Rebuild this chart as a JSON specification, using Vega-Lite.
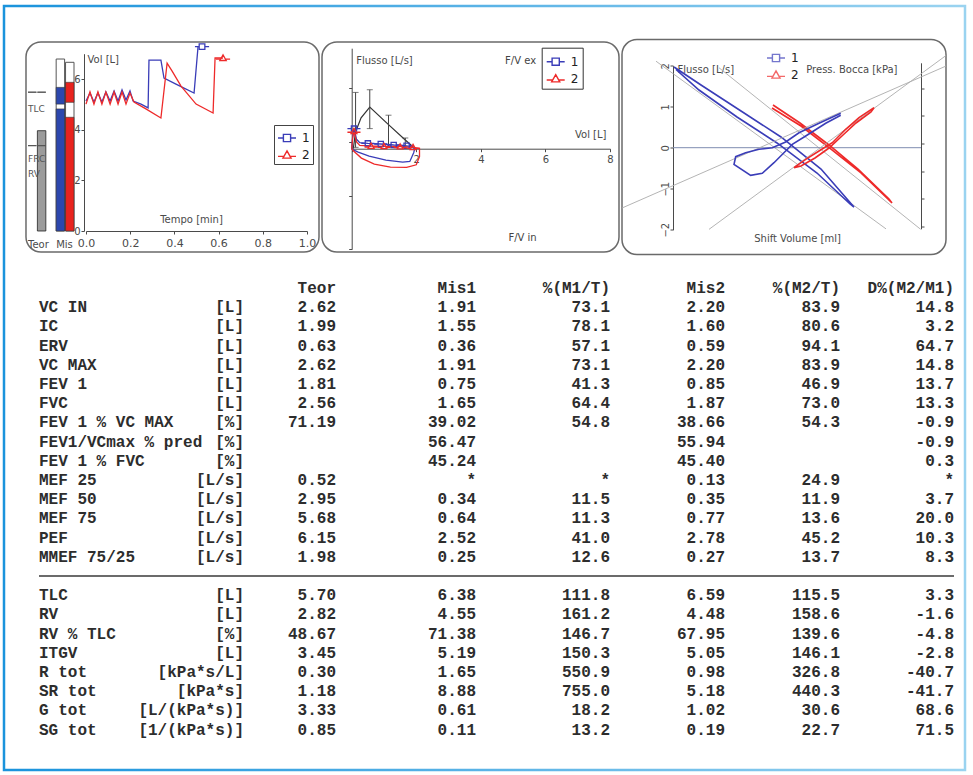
{
 "$schema": "https://vega.github.io/schema/vega-lite/v6.json",
 "background": "white",
 "padding": {"left": 2, "top": 4, "right": 0, "bottom": 0},
 "config": {
  "view": {"stroke": null},
  "axis": {"grid": false, "labelFont": "DejaVu Sans", "labelFontSize": 10, "labelColor": "#4a4a4a", "tickColor": "#4a4a4a", "domainColor": "#4a4a4a", "tickSize": 3, "titleFont": "DejaVu Sans", "titleFontSize": 10, "titleFontWeight": "normal", "titleColor": "#4a4a4a", "labelOverlap": false, "labelFlush": false, "labelBound": false, "titlePadding": 0},
  "legend": {"symbolSize": 324, "symbolStrokeWidth": 1.4, "labelFont": "DejaVu Sans", "labelFontSize": 12, "labelColor": "#222", "rowPadding": 0, "labelOffset": 5},
  "text": {"font": "Liberation Mono", "fontSize": 16, "fontWeight": "bold", "fill": "#2d2d2d", "baseline": "middle"}
 },
 "datasets": {
  "table": [
   {"p":"","u":"","teor":"Teor","mis1":"Mis1","m1t":"%(M1/T)","mis2":"Mis2","m2t":"%(M2/T)","d":"D%(M2/M1)"},
   {"p":"VC IN","u":"[L]","teor":"2.62","mis1":"1.91","m1t":"73.1","mis2":"2.20","m2t":"83.9","d":"14.8"},
   {"p":"IC","u":"[L]","teor":"1.99","mis1":"1.55","m1t":"78.1","mis2":"1.60","m2t":"80.6","d":"3.2"},
   {"p":"ERV","u":"[L]","teor":"0.63","mis1":"0.36","m1t":"57.1","mis2":"0.59","m2t":"94.1","d":"64.7"},
   {"p":"VC MAX","u":"[L]","teor":"2.62","mis1":"1.91","m1t":"73.1","mis2":"2.20","m2t":"83.9","d":"14.8"},
   {"p":"FEV 1","u":"[L]","teor":"1.81","mis1":"0.75","m1t":"41.3","mis2":"0.85","m2t":"46.9","d":"13.7"},
   {"p":"FVC","u":"[L]","teor":"2.56","mis1":"1.65","m1t":"64.4","mis2":"1.87","m2t":"73.0","d":"13.3"},
   {"p":"FEV 1 % VC MAX","u":"[%]","teor":"71.19","mis1":"39.02","m1t":"54.8","mis2":"38.66","m2t":"54.3","d":"-0.9"},
   {"p":"FEV1/VCmax % pred","u":"[%]","teor":"","mis1":"56.47","m1t":"","mis2":"55.94","m2t":"","d":"-0.9"},
   {"p":"FEV 1 % FVC","u":"[%]","teor":"","mis1":"45.24","m1t":"","mis2":"45.40","m2t":"","d":"0.3"},
   {"p":"MEF 25","u":"[L/s]","teor":"0.52","mis1":"*","m1t":"*","mis2":"0.13","m2t":"24.9","d":"*"},
   {"p":"MEF 50","u":"[L/s]","teor":"2.95","mis1":"0.34","m1t":"11.5","mis2":"0.35","m2t":"11.9","d":"3.7"},
   {"p":"MEF 75","u":"[L/s]","teor":"5.68","mis1":"0.64","m1t":"11.3","mis2":"0.77","m2t":"13.6","d":"20.0"},
   {"p":"PEF","u":"[L/s]","teor":"6.15","mis1":"2.52","m1t":"41.0","mis2":"2.78","m2t":"45.2","d":"10.3"},
   {"p":"MMEF 75/25","u":"[L/s]","teor":"1.98","mis1":"0.25","m1t":"12.6","mis2":"0.27","m2t":"13.7","d":"8.3"},
   {"p":"TLC","u":"[L]","teor":"5.70","mis1":"6.38","m1t":"111.8","mis2":"6.59","m2t":"115.5","d":"3.3"},
   {"p":"RV","u":"[L]","teor":"2.82","mis1":"4.55","m1t":"161.2","mis2":"4.48","m2t":"158.6","d":"-1.6"},
   {"p":"RV % TLC","u":"[%]","teor":"48.67","mis1":"71.38","m1t":"146.7","mis2":"67.95","m2t":"139.6","d":"-4.8"},
   {"p":"ITGV","u":"[L]","teor":"3.45","mis1":"5.19","m1t":"150.3","mis2":"5.05","m2t":"146.1","d":"-2.8"},
   {"p":"R tot","u":"[kPa*s/L]","teor":"0.30","mis1":"1.65","m1t":"550.9","mis2":"0.98","m2t":"326.8","d":"-40.7"},
   {"p":"SR tot","u":"[kPa*s]","teor":"1.18","mis1":"8.88","m1t":"755.0","mis2":"5.18","m2t":"440.3","d":"-41.7"},
   {"p":"G tot","u":"[L/(kPa*s)]","teor":"3.33","mis1":"0.61","m1t":"18.2","mis2":"1.02","m2t":"30.6","d":"68.6"},
   {"p":"SG tot","u":"[1/(kPa*s)]","teor":"0.85","mis1":"0.11","m1t":"13.2","mis2":"0.19","m2t":"22.7","d":"71.5"}
  ],
  "p1bars": [
   {"bar":"Mis1","seg":"box","lo":0,"hi":6.79},
   {"bar":"Mis2","seg":"box","lo":0,"hi":6.66},
   {"bar":"Mis1","seg":"fill","lo":0,"hi":4.82},
   {"bar":"Mis1","seg":"fill","lo":5.01,"hi":5.67},
   {"bar":"Mis2","seg":"fill","lo":0,"hi":4.49},
   {"bar":"Mis2","seg":"fill","lo":5.08,"hi":5.87},
   {"bar":"TeorR","seg":"teor","lo":0,"hi":3.96},
   {"bar":"TeorL","seg":"level","lo":5.48,"hi":5.48},
   {"bar":"TeorR","seg":"level","lo":5.48,"hi":5.48},
   {"bar":"TeorL","seg":"level","lo":3.37,"hi":3.37},
   {"bar":"TeorR","seg":"level","lo":3.37,"hi":3.37}
  ],
  "p1labels": [
   {"bar":"TeorL","lab":"TLC","v":4.82},
   {"bar":"TeorL","lab":"FRC","v":2.84},
   {"bar":"TeorL","lab":"RV","v":2.25}
  ],
  "p1foot": [
   {"bar":"TeorL","lab":"Teor","v":-0.55},
   {"bar":"Mis1","lab":"Mis","v":-0.55}
  ],
  "p1lines": [
   {"s":"1","i":0,"t":0,"vol":5.13},{"s":"1","i":1,"t":0.018,"vol":5.45},{"s":"1","i":2,"t":0.036,"vol":5.09},{"s":"1","i":3,"t":0.054,"vol":5.45},{"s":"1","i":4,"t":0.072,"vol":5.09},{"s":"1","i":5,"t":0.09,"vol":5.49},{"s":"1","i":6,"t":0.109,"vol":5.13},{"s":"1","i":7,"t":0.127,"vol":5.53},{"s":"1","i":8,"t":0.145,"vol":5.13},{"s":"1","i":9,"t":0.163,"vol":5.57},{"s":"1","i":10,"t":0.181,"vol":5.17},{"s":"1","i":11,"t":0.199,"vol":5.53},{"s":"1","i":12,"t":0.213,"vol":5.13},{"s":"1","i":13,"t":0.249,"vol":5.01},{"s":"1","i":14,"t":0.281,"vol":4.86},{"s":"1","i":15,"t":0.285,"vol":6.75},{"s":"1","i":16,"t":0.339,"vol":6.75},{"s":"1","i":17,"t":0.353,"vol":6.04},{"s":"1","i":18,"t":0.407,"vol":5.8},{"s":"1","i":19,"t":0.489,"vol":5.45},{"s":"1","i":20,"t":0.507,"vol":7.28},
   {"s":"2","i":0,"t":0,"vol":5.01},{"s":"2","i":1,"t":0.018,"vol":5.49},{"s":"2","i":2,"t":0.036,"vol":5.01},{"s":"2","i":3,"t":0.054,"vol":5.49},{"s":"2","i":4,"t":0.072,"vol":5.01},{"s":"2","i":5,"t":0.09,"vol":5.49},{"s":"2","i":6,"t":0.109,"vol":5.01},{"s":"2","i":7,"t":0.127,"vol":5.49},{"s":"2","i":8,"t":0.145,"vol":5.01},{"s":"2","i":9,"t":0.163,"vol":5.49},{"s":"2","i":10,"t":0.181,"vol":5.01},{"s":"2","i":11,"t":0.199,"vol":5.45},{"s":"2","i":12,"t":0.217,"vol":5.09},{"s":"2","i":13,"t":0.271,"vol":4.82},{"s":"2","i":14,"t":0.339,"vol":4.46},{"s":"2","i":15,"t":0.367,"vol":6.63},{"s":"2","i":16,"t":0.389,"vol":6.32},{"s":"2","i":17,"t":0.43,"vol":5.72},{"s":"2","i":18,"t":0.498,"vol":5.01},{"s":"2","i":19,"t":0.575,"vol":4.66},{"s":"2","i":20,"t":0.584,"vol":6.83},{"s":"2","i":21,"t":0.62,"vol":6.83}
  ],
  "p1marks": [{"s":"1","t":0.525,"vol":7.28},{"s":"2","t":0.62,"vol":6.83}],
  "p2pred": [{"i":0,"v":0.05,"f":0},{"i":1,"v":0.12,"f":2.5},{"i":2,"v":0.29,"f":4.6},{"i":3,"v":0.56,"f":6.2},{"i":4,"v":1.14,"f":3.6},{"i":5,"v":1.66,"f":1.3},{"i":6,"v":1.94,"f":0.1}],
  "p2err": [{"v":0.12,"lo":0.2,"hi":8.4},{"v":0.56,"lo":3.0,"hi":8.8},{"v":1.14,"lo":0.2,"hi":5.0},{"v":1.66,"lo":0.3,"hi":1.6}],
  "p2fv": [
   {"s":"1","i":0,"v":0,"f":0},{"s":"1","i":1,"v":0.03,"f":1.8},{"s":"1","i":2,"v":0.07,"f":3.0},{"s":"1","i":3,"v":0.1,"f":2.4},{"s":"1","i":4,"v":0.15,"f":1.4},{"s":"1","i":5,"v":0.25,"f":0.9},{"s":"1","i":6,"v":0.5,"f":0.8},{"s":"1","i":7,"v":0.9,"f":0.7},{"s":"1","i":8,"v":1.3,"f":0.55},{"s":"1","i":9,"v":1.6,"f":0.5},{"s":"1","i":10,"v":1.85,"f":0.3},{"s":"1","i":11,"v":1.95,"f":0},{"s":"1","i":12,"v":1.92,"f":-0.6},{"s":"1","i":13,"v":1.8,"f":-1.9},{"s":"1","i":14,"v":1.58,"f":-2.0},{"s":"1","i":15,"v":1.06,"f":-1.7},{"s":"1","i":16,"v":0.54,"f":-1.1},{"s":"1","i":17,"v":0.2,"f":-0.5},{"s":"1","i":18,"v":0.02,"f":-0.1},{"s":"1","i":19,"v":0,"f":0},
   {"s":"2","i":0,"v":0,"f":0},{"s":"2","i":1,"v":0.03,"f":1.6},{"s":"2","i":2,"v":0.07,"f":2.6},{"s":"2","i":3,"v":0.1,"f":2.0},{"s":"2","i":4,"v":0.15,"f":1.0},{"s":"2","i":5,"v":0.25,"f":0.5},{"s":"2","i":6,"v":0.6,"f":0.4},{"s":"2","i":7,"v":1.0,"f":0.35},{"s":"2","i":8,"v":1.5,"f":0.3},{"s":"2","i":9,"v":1.9,"f":0.2},{"s":"2","i":10,"v":2.1,"f":0.05},{"s":"2","i":11,"v":2.1,"f":-1.2},{"s":"2","i":12,"v":2.0,"f":-2.4},{"s":"2","i":13,"v":1.7,"f":-2.8},{"s":"2","i":14,"v":1.2,"f":-2.75},{"s":"2","i":15,"v":0.7,"f":-2.3},{"s":"2","i":16,"v":0.3,"f":-1.4},{"s":"2","i":17,"v":0.05,"f":-0.3},{"s":"2","i":18,"v":0,"f":0}
  ],
  "p2marks": [
   {"s":"1","v":0.07,"f":3.0},{"s":"1","v":0.5,"f":0.8},{"s":"1","v":0.9,"f":0.7},{"s":"1","v":1.3,"f":0.55},{"s":"1","v":1.7,"f":0.45},
   {"s":"2","v":0.07,"f":2.6},{"s":"2","v":0.6,"f":0.4},{"s":"2","v":1.0,"f":0.35},{"s":"2","v":1.5,"f":0.3},{"s":"2","v":1.9,"f":0.2}
  ],
  "p2notes": [{"v":5.23,"f":13.1,"txt":"F/V ex"},{"v":5.29,"f":-13.3,"txt":"F/V in"}],
  "p3fit1": [{"id":"G1","i":0,"sv":-35.25,"y":2.11},{"id":"G1","i":1,"sv":22.25,"y":-1.98},{"id":"G2","i":0,"sv":-19.5,"y":1.95},{"id":"G2","i":1,"sv":30.9,"y":-1.99}],
  "p3res": [
   {"s":"1","i":0,"sv":-30.75,"y":1.968},{"s":"1","i":1,"sv":-24,"y":1.529},{"s":"1","i":2,"sv":-14,"y":0.895},{"s":"1","i":3,"sv":-4,"y":0.261},{"s":"1","i":4,"sv":6,"y":-0.52},{"s":"1","i":5,"sv":14.25,"y":-1.446},{"s":"1","i":6,"sv":13.25,"y":-1.373},{"s":"1","i":7,"sv":5,"y":-0.617},{"s":"1","i":8,"sv":-5,"y":0.115},{"s":"1","i":9,"sv":-15,"y":0.749},{"s":"1","i":10,"sv":-24.5,"y":1.407},{"s":"1","i":11,"sv":-30.25,"y":1.907},
   {"s":"2","i":0,"sv":-6.25,"y":0.968},{"s":"2","i":1,"sv":1,"y":0.529},{"s":"2","i":2,"sv":8.5,"y":-0.032},{"s":"2","i":3,"sv":16,"y":-0.617},{"s":"2","i":4,"sv":23.75,"y":-1.349},{"s":"2","i":5,"sv":23,"y":-1.251},{"s":"2","i":6,"sv":15.25,"y":-0.52},{"s":"2","i":7,"sv":8,"y":0.066},{"s":"2","i":8,"sv":0.75,"y":0.602},{"s":"2","i":9,"sv":-6,"y":1.041}
  ],
  "p3fit2": [{"id":"G3","i":0,"sv":-44.5,"y":-1.806},{"id":"G3","i":1,"sv":39,"y":2.435},{"id":"G4","i":0,"sv":-22,"y":-2.386},{"id":"G4","i":1,"sv":39,"y":2.8}],
  "p3press": [
   {"s":"1","i":0,"sv":10.93,"y":0.977},{"s":"1","i":1,"sv":5.5,"y":0.687},{"s":"1","i":2,"sv":0.5,"y":0.414},{"s":"1","i":3,"sv":-2.83,"y":0.145},{"s":"1","i":4,"sv":-6.18,"y":-0.02},{"s":"1","i":5,"sv":-9.5,"y":-0.067},{"s":"1","i":6,"sv":-12.83,"y":-0.165},{"s":"1","i":7,"sv":-15.33,"y":-0.281},{"s":"1","i":8,"sv":-15.75,"y":-0.501},{"s":"1","i":9,"sv":-11.58,"y":-0.82},{"s":"1","i":10,"sv":-8.68,"y":-0.762},{"s":"1","i":11,"sv":-5.75,"y":-0.455},{"s":"1","i":12,"sv":-2.83,"y":-0.116},{"s":"1","i":13,"sv":-1.18,"y":0.078},{"s":"1","i":14,"sv":2.18,"y":0.319},{"s":"1","i":15,"sv":7.18,"y":0.687},{"s":"1","i":16,"sv":10.93,"y":0.919},
   {"s":"2","i":0,"sv":-0.75,"y":-0.6},{"s":"2","i":1,"sv":2.18,"y":-0.357},{"s":"2","i":2,"sv":5.5,"y":-0.116},{"s":"2","i":3,"sv":8.83,"y":0.125},{"s":"2","i":4,"sv":12.18,"y":0.513},{"s":"2","i":5,"sv":15.5,"y":0.849},{"s":"2","i":6,"sv":19.25,"y":1.139},{"s":"2","i":7,"sv":18.5,"y":1.014},{"s":"2","i":8,"sv":14.75,"y":0.696},{"s":"2","i":9,"sv":11.5,"y":0.348},{"s":"2","i":10,"sv":8,"y":-0.029},{"s":"2","i":11,"sv":4.5,"y":-0.319},{"s":"2","i":12,"sv":1,"y":-0.551},{"s":"2","i":13,"sv":-0.75,"y":-0.6}
  ]
 },
 "vconcat": [
  {
   "width": 961, "height": 764,
   "view": {"stroke": {"gradient": "linear", "x1": 0, "y1": 0, "x2": 1, "y2": 0, "stops": [{"offset": 0, "color": "#1a93dc"}, {"offset": 1, "color": "#9ad3f0"}]}, "strokeWidth": 2.5},
   "data": {"name": "table"},
   "layer": [
    {"data": {"values": [{}]}, "mark": {"type": "rule", "stroke": "#6b6b6b", "strokeWidth": 2},
     "encoding": {"x": {"datum": 0, "type": "quantitative", "scale": {"domain": [0,1,2,3,4,5,6,7], "range": [35,240,332,472,606,721,836,950], "nice": false, "zero": false}, "axis": null}, "x2": {"datum": 7},
      "y": {"datum": "sep", "type": "nominal", "scale": {"type": "point", "domain": ["", "VC IN", "IC", "ERV", "VC MAX", "FEV 1", "FVC", "FEV 1 % VC MAX", "FEV1/VCmax % pred", "FEV 1 % FVC", "MEF 25", "MEF 50", "MEF 75", "PEF", "MMEF 75/25", "sep", "TLC", "RV", "RV % TLC", "ITGV", "R tot", "SR tot", "G tot", "SG tot"], "range": [282, 723.6], "padding": 0}, "axis": null}}},
    {"mark": {"type": "text", "align": "left"}, "encoding": {"x": {"datum": 0, "type": "quantitative", "axis": null}, "y": {"field": "p", "type": "nominal", "axis": null}, "text": {"field": "p"}}},
    {"mark": {"type": "text", "align": "right"}, "encoding": {"x": {"datum": 1, "type": "quantitative", "axis": null}, "y": {"field": "p", "type": "nominal", "axis": null}, "text": {"field": "u"}}},
    {"mark": {"type": "text", "align": "right"}, "encoding": {"x": {"datum": 2, "type": "quantitative", "axis": null}, "y": {"field": "p", "type": "nominal", "axis": null}, "text": {"field": "teor"}}},
    {"mark": {"type": "text", "align": "right"}, "encoding": {"x": {"datum": 3, "type": "quantitative", "axis": null}, "y": {"field": "p", "type": "nominal", "axis": null}, "text": {"field": "mis1"}}},
    {"mark": {"type": "text", "align": "right"}, "encoding": {"x": {"datum": 4, "type": "quantitative", "axis": null}, "y": {"field": "p", "type": "nominal", "axis": null}, "text": {"field": "m1t"}}},
    {"mark": {"type": "text", "align": "right"}, "encoding": {"x": {"datum": 5, "type": "quantitative", "axis": null}, "y": {"field": "p", "type": "nominal", "axis": null}, "text": {"field": "mis2"}}},
    {"mark": {"type": "text", "align": "right"}, "encoding": {"x": {"datum": 6, "type": "quantitative", "axis": null}, "y": {"field": "p", "type": "nominal", "axis": null}, "text": {"field": "m2t"}}},
    {"mark": {"type": "text", "align": "right"}, "encoding": {"x": {"datum": 7, "type": "quantitative", "axis": null}, "y": {"field": "p", "type": "nominal", "axis": null}, "text": {"field": "d"}}}
   ]
  },
  {
   "hconcat": [
    {"width": 19, "height": 10, "data": {"values": []}, "mark": "point", "encoding": {}},
    {
     "width": 293, "height": 210,
     "view": {"stroke": "#6a6a6a", "strokeWidth": 1.5, "cornerRadius": 15, "fill": "white"},
     "layer": [
      {
       "layer": [
        {"data": {"name": "p1bars"}, "transform": [{"filter": "datum.seg === 'box'"}], "mark": {"type": "rect", "fill": "white", "stroke": "#555", "strokeWidth": 1},
         "encoding": {"x": {"field": "bar", "type": "nominal", "scale": {"domain": ["TeorL","TeorR","gap","Mis1","Mis2"], "range": [2, 48], "paddingInner": 0.1, "paddingOuter": 0}, "axis": null}, "y": {"field": "lo", "type": "quantitative", "scale": {"domain": [0, 7], "range": [189, 11.7], "nice": false, "zero": false}}, "y2": {"field": "hi"}}},
        {"data": {"name": "p1bars"}, "transform": [{"filter": "datum.seg === 'fill'"}], "mark": {"type": "rect", "stroke": "#333", "strokeWidth": 0.6},
         "encoding": {"x": {"field": "bar", "type": "nominal", "axis": null}, "y": {"field": "lo", "type": "quantitative"}, "y2": {"field": "hi"}, "fill": {"condition": {"test": "datum.bar === 'Mis1'", "value": "#2c47ad"}, "value": "#e8231e"}}},
        {"data": {"name": "p1bars"}, "transform": [{"filter": "datum.seg === 'teor'"}], "mark": {"type": "rect", "fill": "#9b9b9b", "stroke": "#222", "strokeWidth": 0.8},
         "encoding": {"x": {"field": "bar", "type": "nominal", "axis": null}, "y": {"field": "lo", "type": "quantitative"}, "y2": {"field": "hi"}}},
        {"data": {"name": "p1bars"}, "transform": [{"filter": "datum.seg === 'level'"}], "mark": {"type": "rect", "fill": "transparent", "stroke": "#555", "strokeWidth": 1},
         "encoding": {"x": {"field": "bar", "type": "nominal", "axis": null}, "y": {"field": "lo", "type": "quantitative"}, "y2": {"field": "hi"}}},
        {"data": {"name": "p1labels"}, "mark": {"type": "text", "align": "left", "font": "DejaVu Sans", "fontSize": 9, "fontWeight": "normal", "fill": "#555"},
         "encoding": {"x": {"field": "bar", "type": "nominal", "bandPosition": 0, "axis": null}, "y": {"field": "v", "type": "quantitative"}, "text": {"field": "lab"}}},
        {"data": {"name": "p1foot"}, "mark": {"type": "text", "align": "left", "font": "DejaVu Sans", "fontSize": 10, "fontWeight": "normal", "fill": "#4a4a4a"},
         "encoding": {"x": {"field": "bar", "type": "nominal", "bandPosition": 0, "axis": null}, "y": {"field": "v", "type": "quantitative"}, "text": {"field": "lab"}}}
       ]
      },
      {
       "layer": [
        {"data": {"name": "p1lines"}, "transform": [{"filter": "datum.s === '1'"}], "mark": {"type": "line", "strokeWidth": 1.3, "color": "#3a3db8"},
         "encoding": {
          "x": {"field": "t", "type": "quantitative", "scale": {"domain": [0, 1], "range": [60, 281], "nice": false, "zero": false},
                "axis": {"orient": "bottom", "offset": -21, "values": [0,0.05,0.1,0.15,0.2,0.25,0.3,0.35,0.4,0.45,0.5,0.55,0.6,0.65,0.7,0.75,0.8,0.85,0.9,0.95,1], "labelExpr": "round(datum.value*100) % 20 === 0 ? format(datum.value, '.1f') : ''", "labelPadding": 3, "labelFontSize": 11, "title": "Tempo [min]", "titleX": 165, "titleY": -12, "titleAlign": "center", "titleBaseline": "middle"}},
          "y": {"field": "vol", "type": "quantitative", "scale": {"domain": [0, 7], "range": [189, 11.7], "nice": false, "zero": false},
                "axis": {"orient": "left", "offset": -58, "values": [0,0.5,1,1.5,2,2.5,3,3.5,4,4.5,5,5.5,6,6.5,7], "labelExpr": "datum.value % 2 === 0 ? format(datum.value, 'd') : ''", "labelPadding": 1, "zindex": 1, "title": "Vol [L]", "titleAngle": 0, "titleAlign": "left", "titleBaseline": "middle", "titleX": 3, "titleY": 17}},
          "order": {"field": "i", "type": "quantitative"}}},
        {"data": {"name": "p1lines"}, "transform": [{"filter": "datum.s === '2'"}], "mark": {"type": "line", "strokeWidth": 1.3, "color": "#ee2a2a"},
         "encoding": {"x": {"field": "t", "type": "quantitative"}, "y": {"field": "vol", "type": "quantitative"}, "order": {"field": "i", "type": "quantitative"}}},
        {"data": {"name": "p1marks"}, "mark": {"type": "point", "filled": false, "size": 200, "strokeWidth": 1.3, "opacity": 1},
         "encoding": {
          "x": {"field": "t", "type": "quantitative"},
          "y": {"field": "vol", "type": "quantitative"},
          "color": {"field": "s", "type": "nominal", "scale": {"domain": ["1","2"], "range": ["#3a3db8", "#ee2a2a"]}, "legend": {"orient": "none", "legendX": 248, "legendY": 83, "title": null, "strokeColor": "#444", "fillColor": "white", "padding": 3}},
          "shape": {"field": "s", "type": "nominal", "scale": {"domain": ["1","2"], "range": ["M-1,0H-0.4M0.4,0H1M-0.4,-0.4H0.4V0.4H-0.4Z", "M-1,0.15H-0.34M0.34,0.15H1M0,-0.45L0.45,0.35H-0.45Z"]}, "legend": {"orient": "none", "legendX": 248, "legendY": 83, "title": null, "strokeColor": "#444", "fillColor": "white", "padding": 3}}}}
       ]
      }
     ],
     "resolve": {"scale": {"x": "independent"}}
    },
    {
     "width": 297, "height": 210,
     "view": {"stroke": "#6a6a6a", "strokeWidth": 1.5, "cornerRadius": 15, "fill": "white"},
     "layer": [
      {"data": {"name": "p2pred"}, "mark": {"type": "line", "color": "#333", "strokeWidth": 1.2},
       "encoding": {
        "x": {"field": "v", "type": "quantitative", "scale": {"domain": [0, 8], "range": [29.7, 288], "nice": false, "zero": false},
              "axis": {"orient": "bottom", "offset": -103.3, "values": [0,0.25,0.5,0.75,1,1.25,1.5,1.75,2,2.25,2.5,2.75,3,3.25,3.5,3.75,4,4.25,4.5,4.75,5,5.25,5.5,5.75,6,6.25,6.5,6.75,7,7.25,7.5,7.75,8], "labelExpr": "datum.value > 0 && datum.value % 2 === 0 ? format(datum.value, 'd') : ''", "labelPadding": 3, "title": "Vol [L]", "titleX": 284, "titleY": -14, "titleAlign": "right", "titleBaseline": "middle"}},
        "y": {"field": "f", "type": "quantitative", "scale": {"domain": [-15, 15], "range": [207.2, 6.2], "nice": false, "zero": false},
              "axis": {"orient": "left", "offset": -29.7, "values": [-15,-14,-13,-12,-11,-10,-9,-8,-7,-6,-5,-4,-3,-2,-1,0,1,2,3,4,5,6,7,8,9,10,11,12,13,14,15], "labelExpr": "datum.value % 5 === 0 && abs(datum.value) <= 10 ? format(abs(datum.value), 'd') : ''", "labelPadding": 2, "title": "Flusso [L/s]", "titleAngle": 0, "titleAlign": "left", "titleBaseline": "middle", "titleX": 4, "titleY": 18}},
        "order": {"field": "i", "type": "quantitative"}}},
      {"data": {"name": "p2err"}, "mark": {"type": "rule", "color": "#444", "strokeWidth": 1},
       "encoding": {"x": {"field": "v", "type": "quantitative"}, "y": {"field": "lo", "type": "quantitative"}, "y2": {"field": "hi"}}},
      {"data": {"name": "p2err"}, "mark": {"type": "tick", "orient": "horizontal", "size": 6, "thickness": 1, "color": "#444"},
       "encoding": {"x": {"field": "v", "type": "quantitative"}, "y": {"field": "hi", "type": "quantitative"}}},
      {"data": {"name": "p2err"}, "mark": {"type": "tick", "orient": "horizontal", "size": 6, "thickness": 1, "color": "#444"},
       "encoding": {"x": {"field": "v", "type": "quantitative"}, "y": {"field": "lo", "type": "quantitative"}}},
      {"data": {"name": "p2fv"}, "transform": [{"filter": "datum.s === '1'"}], "mark": {"type": "line", "strokeWidth": 1.3, "color": "#3a3db8"},
       "encoding": {"x": {"field": "v", "type": "quantitative"}, "y": {"field": "f", "type": "quantitative"}, "order": {"field": "i", "type": "quantitative"}}},
      {"data": {"name": "p2fv"}, "transform": [{"filter": "datum.s === '2'"}], "mark": {"type": "line", "strokeWidth": 1.3, "color": "#ee2a2a"},
       "encoding": {"x": {"field": "v", "type": "quantitative"}, "y": {"field": "f", "type": "quantitative"}, "order": {"field": "i", "type": "quantitative"}}},
      {"data": {"name": "p2marks"}, "mark": {"type": "point", "filled": false, "size": 170, "strokeWidth": 1.3, "opacity": 1},
       "encoding": {"x": {"field": "v", "type": "quantitative"}, "y": {"field": "f", "type": "quantitative"},
        "color": {"field": "s", "type": "nominal", "scale": {"domain": ["1","2"], "range": ["#3a3db8", "#ee2a2a"]}, "legend": {"orient": "none", "legendX": 219.7, "legendY": 5.7, "title": null, "strokeColor": "#333", "fillColor": "white", "padding": 4}},
        "shape": {"field": "s", "type": "nominal", "scale": {"domain": ["1","2"], "range": ["M-1,0H-0.4M0.4,0H1M-0.4,-0.4H0.4V0.4H-0.4Z", "M-1,0.15H-0.34M0.34,0.15H1M0,-0.45L0.45,0.35H-0.45Z"]}, "legend": {"orient": "none", "legendX": 219.7, "legendY": 5.7, "title": null, "strokeColor": "#333", "fillColor": "white", "padding": 4}}}},
      {"data": {"name": "p2notes"}, "mark": {"type": "text", "align": "center", "font": "DejaVu Sans", "fontSize": 10, "fontWeight": "normal", "fill": "#444"},
       "encoding": {"x": {"field": "v", "type": "quantitative"}, "y": {"field": "f", "type": "quantitative"}, "text": {"field": "txt"}}}
     ]
    },
    {
     "width": 324, "height": 215,
     "view": {"stroke": "#6a6a6a", "strokeWidth": 1.5, "cornerRadius": 15, "fill": "white"},
     "layer": [
      {
       "layer": [
        {"data": {"name": "p3fit1"}, "mark": {"type": "line", "color": "#acacac", "strokeWidth": 0.9, "clip": true},
         "encoding": {
          "x": {"field": "sv", "type": "quantitative", "scale": {"domain": [-31, 31], "range": [51, 299], "nice": false, "zero": false},
                "axis": {"orient": "bottom", "ticks": false, "labels": false, "domain": false, "title": "Shift Volume [ml]", "titleX": 175, "titleY": -16.5, "titleAlign": "center", "titleBaseline": "middle"}},
          "y": {"field": "y", "type": "quantitative", "scale": {"domain": [-2, 2], "range": [190.2, 26.2], "nice": false, "zero": false},
                "axis": {"orient": "left", "offset": -51, "values": [-2,-1.5,-1,-0.5,0,0.5,1,1.5,2], "labelExpr": "datum.value % 1 === 0 ? format(datum.value, 'd') : ''", "labelAngle": -90, "labelAlign": "center", "labelBaseline": "bottom", "labelPadding": 0, "title": "Flusso [L/s]", "titleAngle": 0, "titleAlign": "left", "titleBaseline": "middle", "titleX": 4, "titleY": 29.5}},
          "detail": {"field": "id"}, "order": {"field": "i", "type": "quantitative"}}},
        {"data": {"values": [{}]}, "mark": {"type": "rule", "color": "#7f8db0", "strokeWidth": 1},
         "encoding": {"x": {"datum": -31, "type": "quantitative"}, "x2": {"datum": 31}, "y": {"datum": 0, "type": "quantitative"}}},
        {"data": {"name": "p3res"}, "transform": [{"filter": "datum.s === '1'"}], "mark": {"type": "line", "strokeWidth": 1.6, "color": "#3a3db8"},
         "encoding": {"x": {"field": "sv", "type": "quantitative"}, "y": {"field": "y", "type": "quantitative"}, "order": {"field": "i", "type": "quantitative"}}},
        {"data": {"name": "p3res"}, "transform": [{"filter": "datum.s === '2'"}], "mark": {"type": "line", "strokeWidth": 1.6, "color": "#ee2a2a"},
         "encoding": {"x": {"field": "sv", "type": "quantitative"}, "y": {"field": "y", "type": "quantitative"}, "order": {"field": "i", "type": "quantitative"}}},
        {"data": {"values": []}, "mark": {"type": "point", "filled": false, "size": 200, "strokeWidth": 1.3},
         "encoding": {
          "color": {"field": "s", "type": "nominal", "scale": {"domain": ["1","2"], "range": ["#3a3db8", "#ee2a2a"]}, "legend": {"orient": "none", "legendX": 144, "legendY": 8.5, "title": null, "padding": 0}},
          "shape": {"field": "s", "type": "nominal", "scale": {"domain": ["1","2"], "range": ["M-1,0H-0.4M0.4,0H1M-0.4,-0.4H0.4V0.4H-0.4Z", "M-1,0.15H-0.34M0.34,0.15H1M0,-0.45L0.45,0.35H-0.45Z"]}, "legend": {"orient": "none", "legendX": 144, "legendY": 8.5, "title": null, "padding": 0}}}}
       ]
      },
      {
       "layer": [
        {"data": {"name": "p3fit2"}, "mark": {"type": "line", "color": "#acacac", "strokeWidth": 0.9, "clip": true},
         "encoding": {
          "x": {"field": "sv", "type": "quantitative"},
          "y": {"field": "y", "type": "quantitative", "scale": {"domain": [-2.37, 2.44], "range": [189.3, 23.3], "nice": false, "zero": false},
                "axis": {"orient": "right", "offset": -25, "values": [-2.3,-2.2,-2.1,-2,-1.9,-1.8,-1.7,-1.6,-1.5,-1.4,-1.3,-1.2,-1.1,-1,-0.9,-0.8,-0.7,-0.6,-0.5,-0.4,-0.3,-0.2,-0.1,0,0.1,0.2,0.3,0.4,0.5,0.6,0.7,0.8,0.9,1,1.1,1.2,1.3,1.4,1.5,1.6,1.7,1.8,1.9,2,2.1,2.2,2.3,2.4], "labelExpr": "datum.value % 1 === 0 ? format(datum.value, 'd') : ''", "labelAngle": -90, "labelAlign": "center", "labelBaseline": "bottom", "labelPadding": -6, "title": "Press. Bocca [kPa]", "titleAngle": 0, "titleAlign": "right", "titleBaseline": "middle", "titleX": -24, "titleY": 29.5}},
          "detail": {"field": "id"}, "order": {"field": "i", "type": "quantitative"}}},
        {"data": {"name": "p3press"}, "transform": [{"filter": "datum.s === '1'"}], "mark": {"type": "line", "strokeWidth": 1.6, "color": "#3a3db8"},
         "encoding": {"x": {"field": "sv", "type": "quantitative"}, "y": {"field": "y", "type": "quantitative"}, "order": {"field": "i", "type": "quantitative"}}},
        {"data": {"name": "p3press"}, "transform": [{"filter": "datum.s === '2'"}], "mark": {"type": "line", "strokeWidth": 1.6, "color": "#ee2a2a"},
         "encoding": {"x": {"field": "sv", "type": "quantitative"}, "y": {"field": "y", "type": "quantitative"}, "order": {"field": "i", "type": "quantitative"}}}
       ]
      }
     ],
     "resolve": {"scale": {"y": "independent"}}
    }
   ],
   "spacing": 3,
   "center": true,
   "bounds": "flush",
   "resolve": {"scale": {"color": "independent", "shape": "independent"}, "legend": {"color": "independent", "shape": "independent"}}
  }
 ],
 "spacing": -730.5,
 "align": "none",
 "bounds": "flush",
 "resolve": {"scale": {"color": "independent", "shape": "independent"}, "legend": {"color": "independent", "shape": "independent"}}
}
